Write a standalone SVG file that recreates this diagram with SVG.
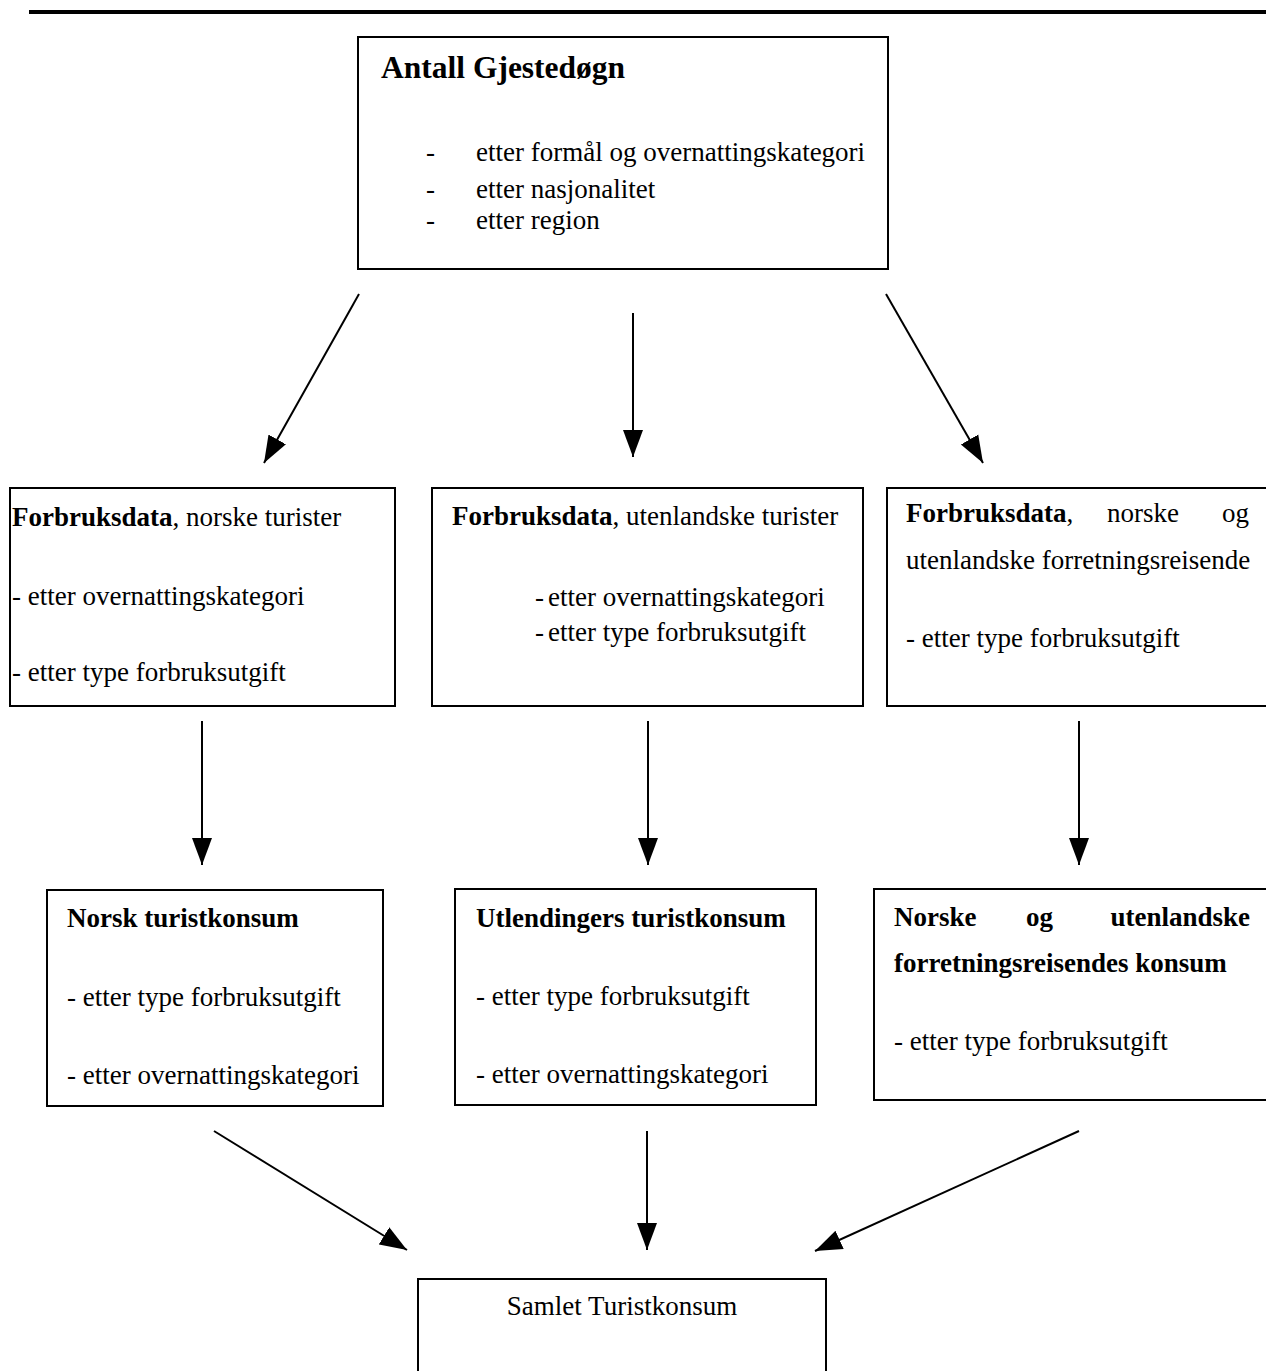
<svg xmlns="http://www.w3.org/2000/svg" width="1266" height="1371" viewBox="0 0 1266 1371">
<style>
.box{fill:#fff;stroke:#000;stroke-width:2}
.t{font-family:"Liberation Serif","Times New Roman",serif;font-size:27px;fill:#000}
.b{font-weight:bold}
.title{font-family:"Liberation Serif","Times New Roman",serif;font-size:31.5px;font-weight:bold;fill:#000}
.c{stroke:#000;stroke-width:2;fill:none;marker-end:url(#ah)}
</style>
<defs>
<marker id="ah" markerUnits="userSpaceOnUse" markerWidth="28" markerHeight="22" refX="27" refY="10" orient="auto" viewBox="0 0 28 20">
<path d="M0,0 L27,10 L0,20 z" fill="#000"/>
</marker>
</defs>
<rect x="0" y="0" width="1266" height="1371" fill="#fff"/>
<line x1="29" y1="12" x2="1266" y2="12" stroke="#000" stroke-width="4"/>

<g id="n-gjestedogn">
<rect class="box" x="358" y="37" width="530" height="232"/>
<text class="title" x="381" y="78">Antall Gjestedøgn</text>
<text class="t" x="426" y="161">-</text><text class="t" x="476" y="161">etter formål og overnattingskategori</text>
<text class="t" x="426" y="198">-</text><text class="t" x="476" y="198">etter nasjonalitet</text>
<text class="t" x="426" y="229">-</text><text class="t" x="476" y="229">etter region</text>
</g>

<g id="n-forbruk-norske">
<rect class="box" x="10" y="488" width="385" height="218"/>
<text class="t" x="12" y="526"><tspan class="b">Forbruksdata</tspan>, norske turister</text>
<text class="t" x="12" y="605">- etter overnattingskategori</text>
<text class="t" x="12" y="681">- etter type forbruksutgift</text>
</g>

<g id="n-forbruk-utenlandske">
<rect class="box" x="432" y="488" width="431" height="218"/>
<text class="t" x="452" y="525"><tspan class="b">Forbruksdata</tspan>, utenlandske turister</text>
<text class="t" x="535" y="606">-</text><text class="t" x="548" y="606">etter overnattingskategori</text>
<text class="t" x="535" y="641">-</text><text class="t" x="548" y="641">etter type forbruksutgift</text>
</g>

<g id="n-forbruk-forretning">
<rect class="box" x="887" y="488" width="390" height="218"/>
<text class="t" x="906" y="522"><tspan class="b">Forbruksdata</tspan>,</text>
<text class="t" x="1107" y="522">norske</text>
<text class="t" x="1249" y="522" text-anchor="end">og</text>
<text class="t" x="906" y="569">utenlandske forretningsreisende</text>
<text class="t" x="906" y="647">- etter type forbruksutgift</text>
</g>

<g id="n-norsk-konsum">
<rect class="box" x="47" y="890" width="336" height="216"/>
<text class="t b" x="67" y="927">Norsk turistkonsum</text>
<text class="t" x="67" y="1006">- etter type forbruksutgift</text>
<text class="t" x="67" y="1084">- etter overnattingskategori</text>
</g>

<g id="n-utl-konsum">
<rect class="box" x="455" y="889" width="361" height="216"/>
<text class="t b" x="476" y="927">Utlendingers turistkonsum</text>
<text class="t" x="476" y="1005">- etter type forbruksutgift</text>
<text class="t" x="476" y="1083">- etter overnattingskategori</text>
</g>

<g id="n-forretning-konsum">
<rect class="box" x="874" y="889" width="400" height="211"/>
<text class="t b" x="894" y="926">Norske</text>
<text class="t b" x="1026" y="926">og</text>
<text class="t b" x="1250" y="926" text-anchor="end">utenlandske</text>
<text class="t b" x="894" y="972">forretningsreisendes konsum</text>
<text class="t" x="894" y="1050">- etter type forbruksutgift</text>
</g>

<g id="n-samlet">
<rect class="box" x="418" y="1279" width="408" height="110"/>
<text class="t" x="622" y="1315" text-anchor="middle">Samlet Turistkonsum</text>
</g>

<g id="connectors">
<line class="c" x1="359" y1="294" x2="264" y2="463"/>
<line class="c" x1="633" y1="313" x2="633" y2="457"/>
<line class="c" x1="886" y1="294" x2="983" y2="463"/>
<line class="c" x1="202" y1="721" x2="202" y2="865"/>
<line class="c" x1="648" y1="721" x2="648" y2="865"/>
<line class="c" x1="1079" y1="721" x2="1079" y2="865"/>
<line class="c" x1="214" y1="1131" x2="407" y2="1250"/>
<line class="c" x1="647" y1="1131" x2="647" y2="1250"/>
<line class="c" x1="1079" y1="1131" x2="815" y2="1251"/>
</g>
</svg>
